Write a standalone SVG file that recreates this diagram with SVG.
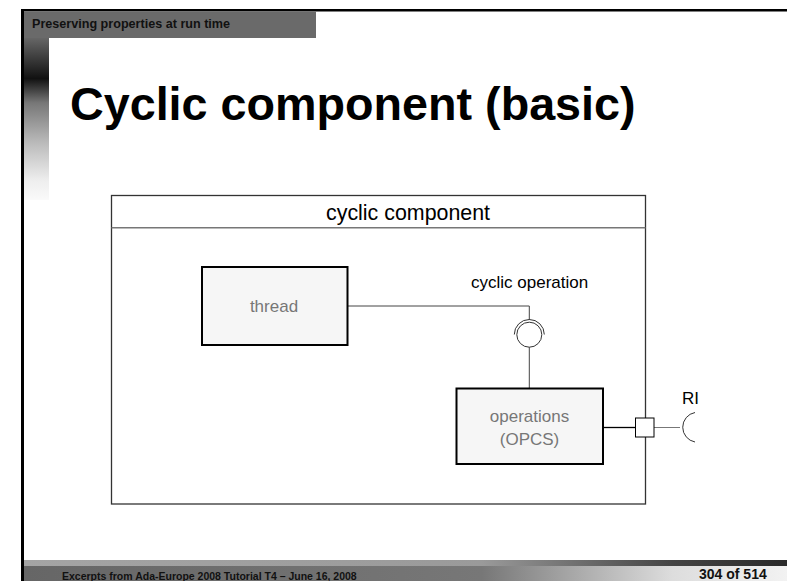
<svg xmlns="http://www.w3.org/2000/svg" width="787" height="581" viewBox="0 0 787 581">
<defs>
<linearGradient id="sideGrad" x1="0" y1="0" x2="0" y2="1">
<stop offset="0" stop-color="#666"/>
<stop offset="0.25" stop-color="#111"/>
<stop offset="0.4" stop-color="#777"/>
<stop offset="0.65" stop-color="#bbb"/>
<stop offset="0.88" stop-color="#eee"/>
<stop offset="1" stop-color="#fafafa"/>
</linearGradient>
<linearGradient id="footTop" x1="0" y1="0" x2="1" y2="0">
<stop offset="0" stop-color="#a4a4a4"/>
<stop offset="0.6" stop-color="#9a9a9a"/>
<stop offset="0.85" stop-color="#444"/>
<stop offset="1" stop-color="#2a2a2a"/>
</linearGradient>
<linearGradient id="footBot" x1="0" y1="0" x2="1" y2="0">
<stop offset="0" stop-color="#666"/>
<stop offset="0.6" stop-color="#777"/>
<stop offset="0.85" stop-color="#ddd"/>
<stop offset="1" stop-color="#f2f2f2"/>
</linearGradient>
<style>
.lbl{font-family:"Liberation Sans",Arial,sans-serif;font-size:17px;fill:#000}
.big{font-size:21.4px}
.inner{font-family:"Liberation Sans",Arial,sans-serif;font-size:17px;fill:#777}
.box{fill:#f6f6f6;stroke:#000;stroke-width:2}
.conn{fill:none;stroke:#444;stroke-width:1}
</style>
</defs>
<rect width="787" height="581" fill="#fff"/>
<g id="frame">
<rect x="21" y="9" width="766" height="2.5" fill="#000"/>
<rect x="21" y="9" width="3" height="572" fill="#000"/>
<rect x="24" y="11.5" width="292" height="26.5" fill="#6a6a6a"/>
<rect x="24" y="38" width="25" height="162" fill="url(#sideGrad)"/>
<text x="32" y="27.5" font-family="Liberation Sans,Arial,sans-serif" font-size="12.6" font-weight="bold" fill="#111">Preserving properties at run time</text>
<text x="70" y="120" font-family="Liberation Sans,Arial,sans-serif" font-size="46.7" font-weight="bold" fill="#000">Cyclic component (basic)</text>
<rect x="24" y="560" width="763" height="6" fill="url(#footTop)"/>
<rect x="24" y="566" width="763" height="15" fill="url(#footBot)"/>
<text x="62" y="579.5" font-family="Liberation Sans,Arial,sans-serif" font-size="10.5" font-weight="bold" fill="#111">Excerpts from Ada-Europe 2008 Tutorial T4 – June 16, 2008</text>
<text x="699" y="579" font-family="Liberation Sans,Arial,sans-serif" font-size="14" font-weight="bold" fill="#111">304 of 514</text>
</g>
<g id="cyclic-component">
<rect x="111.5" y="195.5" width="534" height="308.5" fill="#fff" stroke="#333" stroke-width="1.3"/>
<line x1="111.5" y1="227.7" x2="645.5" y2="227.7" stroke="#777" stroke-width="1.5"/>
<text class="lbl big" x="326" y="220">cyclic component</text>
</g>
<g id="connectors">
<polyline class="conn" stroke="#666" points="348,306 529.3,306 529.3,320"/>
<line class="conn" x1="529.3" y1="347" x2="529.3" y2="388"/>
<line x1="603" y1="427.5" x2="635" y2="427.5" stroke="#000" stroke-width="1.3"/>
<line x1="654" y1="427.5" x2="680" y2="427.5" stroke="#777" stroke-width="1"/>
</g>
<g id="thread">
<rect class="box" x="202" y="267" width="145.5" height="78"/>
<text class="inner" x="274" y="312" text-anchor="middle">thread</text>
</g>
<g id="cyclic-operation">
<path d="M514.3,334.5 A15,15 0 0 1 544.3,334.5" fill="none" stroke="#333" stroke-width="1"/>
<circle cx="529.3" cy="334.7" r="12.5" fill="#fff" stroke="#333" stroke-width="1"/>
<text class="lbl" x="471" y="288">cyclic operation</text>
</g>
<g id="operations">
<rect class="box" x="456.5" y="388.5" width="146.5" height="75.5"/>
<text class="inner" x="529.5" y="421.5" text-anchor="middle">operations</text>
<text class="inner" x="529.5" y="445" text-anchor="middle">(OPCS)</text>
</g>
<g id="port">
<rect x="635.5" y="418" width="18.5" height="19" fill="#fff" stroke="#000" stroke-width="1"/>
</g>
<g id="RI">
<path d="M695,412.5 A15,15 0 0 0 695,442" fill="none" stroke="#333" stroke-width="1"/>
<text class="lbl" x="682" y="404">RI</text>
</g>
</svg>
